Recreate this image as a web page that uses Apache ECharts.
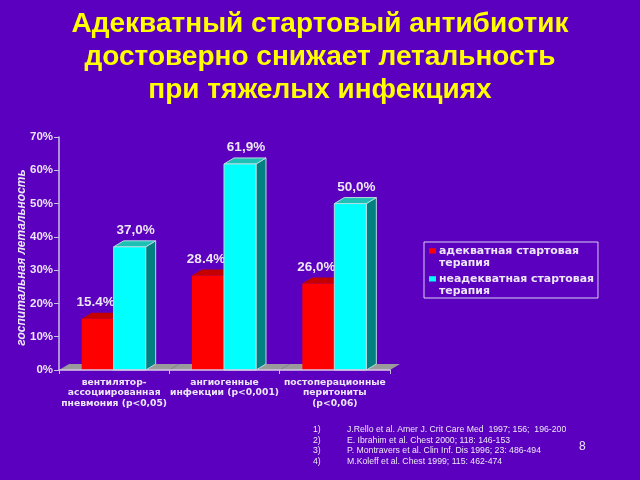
<!DOCTYPE html>
<html><head><meta charset="utf-8">
<style>html,body{margin:0;padding:0;background:#5c00bf}#c{width:640px;height:480px;filter:blur(0.45px)}</style>
<script src="https://cdn.jsdelivr.net/npm/echarts@6/dist/echarts.min.js"></script>
</head><body><div id="c"></div>
<script>
const categories = ['вентилятор-\nассоциированная\nпневмония (р<0,05)', 'ангиогенные\nинфекции (р<0,001)', 'постоперационные\nперитониты\n(р<0,06)'];
const adequate = [15.4, 28.4, 26.0];
const inadequate = [37.0, 61.9, 50.0];
const adequateLabels = ['15.4%', '28.4%', '26,0%'];
const inadequateLabels = ['37,0%', '61,9%', '50,0%'];
const seriesNames = ['адекватная стартовая\nтерапия', 'неадекватная стартовая\nтерапия'];
const titleLines = ['Адекватный стартовый антибиотик', 'достоверно снижает летальность', 'при тяжелых инфекциях'];
const refNumbers = ['1)', '2)', '3)', '4)'];
const refs = ['J.Rello et al. Amer J. Crit Care Med  1997; 156;  196-200', 'E. Ibrahim et al. Chest 2000; 118: 146-153', 'P. Montravers et al. Clin Inf. Dis 1996; 23: 486-494', 'M.Koleff et al. Chest 1999; 115: 462-474'];
const yAxisTitle = 'госпитальная летальность';
const pageNumber = '8';

const DX = 10, DY = 6, BAR = 32, TXT = '#ece6f6';
function bar3d(values, labels, offset, labelDx, front, top, side, stroke) {
  return function (params, api) {
    const i = api.value(0), v = values[i];
    const base = api.coord([i, 0]), head = api.coord([i, v]);
    const xL = base[0] + offset, xR = xL + BAR, yT = head[1], yB = base[1];
    const lw = stroke ? 1 : 0, st = { stroke: stroke || 'none', lineWidth: lw };
    return { type: 'group', children: [
      { type: 'polygon', shape: { points: [[xR, yB], [xR + DX, yB - DY], [xR + DX, yT - DY], [xR, yT]] }, style: { fill: side, ...st } },
      { type: 'polygon', shape: { points: [[xL, yT], [xL + DX, yT - DY], [xR + DX, yT - DY], [xR, yT]] }, style: { fill: top, ...st } },
      { type: 'rect', shape: { x: xL, y: yT, width: BAR, height: yB - yT }, style: { fill: front, ...st } },
      { type: 'text', style: { x: (xL + xR) / 2 + labelDx, y: yT - 16.5, text: labels[i], fill: TXT, align: 'center', verticalAlign: 'middle', font: 'bold 13.5px "Liberation Sans"' } }
    ] };
  };
}
const idx = categories.map((_, i) => [i]);
const chart = echarts.init(document.getElementById('c'), null, { renderer: 'canvas' });
const textEls = [];
titleLines.forEach((t, i) => textEls.push({ type: 'text', x: 320, y: 24 + i * 33, style: { text: t, fill: '#ffff00', align: 'center', verticalAlign: 'middle', font: 'bold 28px "Liberation Sans"' } }));
refNumbers.forEach((t, i) => textEls.push({ type: 'text', x: 313, y: 429.5 + i * 10.7, style: { text: t, fill: TXT, verticalAlign: 'middle', font: '8.7px "Liberation Sans"' } }));
refs.forEach((t, i) => textEls.push({ type: 'text', x: 347, y: 429.5 + i * 10.7, style: { text: t, fill: TXT, verticalAlign: 'middle', font: '8.7px "Liberation Sans"' } }));
textEls.push({ type: 'text', x: 579, y: 447, style: { text: pageNumber, fill: TXT, verticalAlign: 'middle', font: '12px "Liberation Sans"' } });

chart.setOption({
  animation: false,
  backgroundColor: '#5c00bf',
  grid: { left: 59, top: 137, width: 331, height: 233, containLabel: false },
  graphic: textEls,
  legend: {
    left: 424, top: 242, orient: 'vertical',
    icon: 'path://M0,3H8V9H0ZM0,24L0,24Z', itemWidth: 7, itemHeight: 24, itemGap: 3,
    padding: [3, 4, 0, 5], borderColor: '#d8d0ee', borderWidth: 1, align: 'left',
    data: seriesNames,
    textStyle: { color: TXT, fontFamily: 'DejaVu Sans', fontWeight: 'bold', fontSize: 10.9, lineHeight: 12, padding: [1, 0, 0, -2] }
  },
  xAxis: {
    type: 'category', data: categories, z: 5,
    axisLine: { lineStyle: { color: '#d8c8e8', width: 1.5 } },
    axisTick: { show: true, alignWithLabel: false, length: 4, lineStyle: { color: '#c8c0e0' } },
    axisLabel: { color: TXT, fontFamily: 'DejaVu Sans', fontWeight: 'bold', fontSize: 9.2, lineHeight: 10.7, margin: 7, interval: 0 }
  },
  yAxis: {
    type: 'value', min: 0, max: 70, interval: 10, z: 5,
    name: yAxisTitle, nameLocation: 'middle', nameRotate: 90, nameGap: 31, nameMoveOverlap: false,
    nameTextStyle: { color: TXT, fontFamily: 'Liberation Sans', fontWeight: 'bold', fontStyle: 'italic', fontSize: 12, padding: [0, 8, 0, 0] },
    splitLine: { show: false },
    axisLine: { show: true, lineStyle: { color: '#c8c0e0', width: 1.5 } },
    axisTick: { show: true, length: 5, lineStyle: { color: '#c8c0e0' } },
    axisLabel: { color: TXT, fontFamily: 'Liberation Sans', fontWeight: 'bold', fontSize: 11.5, margin: 6, formatter: '{value}%' }
  },
  series: [
    { type: 'custom', silent: true, z: 1, clip: false, data: idx, encode: { x: 0 }, renderItem(p, api) {
        const i = api.value(0), b = api.coord([i, 0]), w = api.size([1, 0])[0];
        const l = b[0] - w / 2, r = b[0] + w / 2, y = b[1];
        return { type: 'polygon', shape: { points: [[l, y], [l + DX, y - DY], [r + DX, y - DY], [r, y]] }, style: { fill: '#9a9a9a', stroke: 'none' } };
    } },
    { name: seriesNames[0], type: 'custom', z: 2, clip: false, data: idx, encode: { x: 0 }, itemStyle: { color: '#ff0000' },
      renderItem: bar3d(adequate, adequateLabels, -32.5, -2, '#ff0000', '#c40000', '#a00000', null) },
    { name: seriesNames[1], type: 'custom', z: 3, clip: false, data: idx, encode: { x: 0 }, itemStyle: { color: '#00ffff' },
      renderItem: bar3d(inadequate, inadequateLabels, -0.5, 6, '#00ffff', '#1cc0b4', '#008080', '#b8dce0') }
  ]
});
</script></body></html>
